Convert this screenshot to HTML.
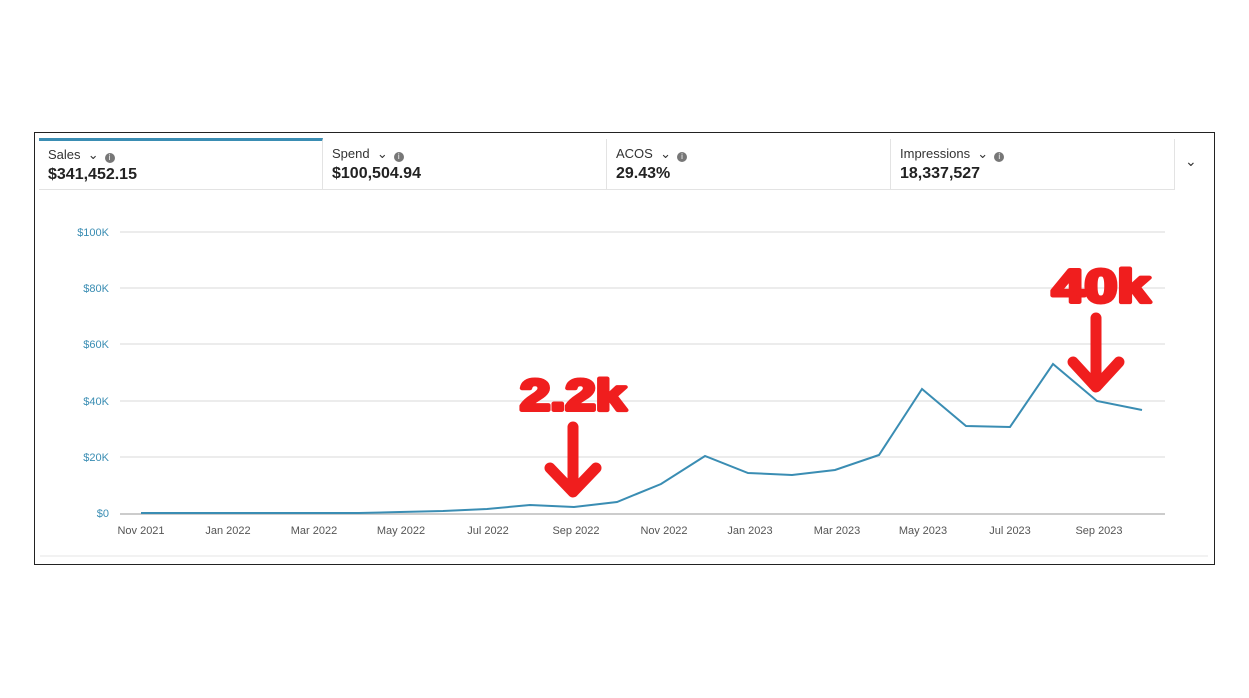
<!DOCTYPE html><html><head><style>
body{margin:0;width:1249px;height:698px;background:#fff;font-family:"Liberation Sans",sans-serif;position:relative;overflow:hidden}
.card{position:absolute;left:34px;top:132px;width:1179px;height:431px;border:1px solid #222;}
.tab{position:absolute;top:6px;height:51px;border-right:1px solid #e3e3e3;border-bottom:1px solid #e3e3e3;box-sizing:border-box;padding:7px 0 0 13px}
.t{font-size:13px;color:#333}.v{font-size:16px;font-weight:bold;color:#222;margin-top:3px}
.i{display:inline-block;width:10px;height:10px;border-radius:50%;background:#777;color:#fff;font-size:8px;text-align:center;line-height:10px;vertical-align:-1px;margin-left:6px}
</style></head><body>
<div class="card">
<div class="tab" style="left:4px;width:284px;border-top:3px solid #3a8db3;top:5px;padding:6px 0 0 9px;height:52px"><div class="t">Sales &nbsp;⌄<span class="i">i</span></div><div class="v">$341,452.15</div></div>
<div class="tab" style="left:288px;width:284px;padding-left:9px"><div class="t">Spend &nbsp;⌄<span class="i">i</span></div><div class="v">$100,504.94</div></div>
<div class="tab" style="left:572px;width:284px;padding-left:9px"><div class="t">ACOS &nbsp;⌄<span class="i">i</span></div><div class="v">29.43%</div></div>
<div class="tab" style="left:856px;width:284px;padding-left:9px"><div class="t">Impressions &nbsp;⌄<span class="i">i</span></div><div class="v">18,337,527</div></div>
<div style="position:absolute;left:1150px;top:20px;font-size:14px;color:#333">⌄</div>
</div>
<svg width="1249" height="698" style="position:absolute;left:0;top:0">
<g stroke="#e6e6e6" stroke-width="1.5">
<line x1="120" x2="1165" y1="232" y2="232"/><line x1="120" x2="1165" y1="288" y2="288"/><line x1="120" x2="1165" y1="344" y2="344"/><line x1="120" x2="1165" y1="401" y2="401"/><line x1="120" x2="1165" y1="457" y2="457"/><line x1="120" x2="1165" y1="514" y2="514" stroke="#ccc" stroke-width="2"/>
<line x1="40" x2="1208" y1="556" y2="556" stroke="#eee"/>
</g>
<g font-size="11" fill="#3a8db3" text-anchor="end">
<text x="109" y="236">$100K</text><text x="109" y="292">$80K</text><text x="109" y="348">$60K</text><text x="109" y="405">$40K</text><text x="109" y="461">$20K</text><text x="109" y="517">$0</text></g>
<g font-size="11" fill="#555" text-anchor="middle">
<text x="141" y="534">Nov 2021</text><text x="228" y="534">Jan 2022</text><text x="314" y="534">Mar 2022</text><text x="401" y="534">May 2022</text><text x="488" y="534">Jul 2022</text><text x="576" y="534">Sep 2022</text><text x="664" y="534">Nov 2022</text><text x="750" y="534">Jan 2023</text><text x="837" y="534">Mar 2023</text><text x="923" y="534">May 2023</text><text x="1010" y="534">Jul 2023</text><text x="1099" y="534">Sep 2023</text></g>
<polyline fill="none" stroke="#3a8db3" stroke-width="2" points="141,513 185,513 228,513 272,513 315,513 359,513 400,512 443,511 487,509 530,505 574,507 617,502 661,484 705,456 748,473 792,475 835,470 879,455 922,389 966,426 1010,427 1053,364 1097,401 1142,410"/>
<g stroke="#f01e1e" stroke-width="11" stroke-linecap="round" fill="none" stroke-linejoin="round">
<line x1="573" y1="427" x2="573" y2="490"/><polyline points="550,468 573,492 596,468"/>
<line x1="1096" y1="318" x2="1096" y2="385"/><polyline points="1073,362 1096,387 1119,362"/></g>
<g fill="#f01e1e" font-weight="bold" font-family="'Liberation Sans',sans-serif" stroke="#f01e1e" stroke-width="4" stroke-linejoin="round">
<text x="520" y="410" font-size="44" textLength="106" lengthAdjust="spacingAndGlyphs">2.2k</text>
<text x="1052" y="302" font-size="46" textLength="98" lengthAdjust="spacingAndGlyphs">40k</text></g>
</svg>
</body></html>
